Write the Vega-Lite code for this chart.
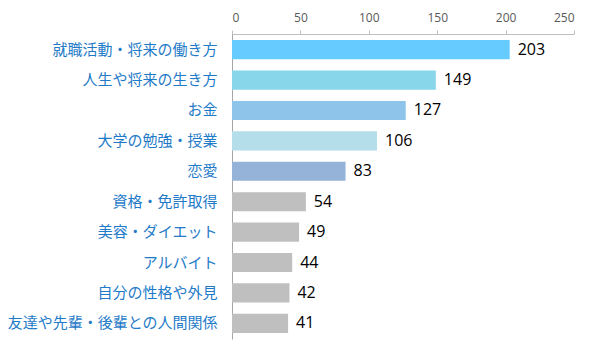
{
  "$schema": "https://vega.github.io/schema/vega-lite/v6.json",
  "autosize": {"type": "none"},
  "width": 342,
  "height": 305,
  "padding": {"left": 232, "top": 34, "right": 26, "bottom": 13},
  "background": "white",
  "config": {"view": {"stroke": null}},
  "data": {"values": [
    {"topic": "就職活動・将来の働き方", "count": 203, "color": "#66CCFF"},
    {"topic": "人生や将来の生き方", "count": 149, "color": "#87D6EA"},
    {"topic": "お金", "count": 127, "color": "#8EC3EA"},
    {"topic": "大学の勉強・授業", "count": 106, "color": "#B4DEEA"},
    {"topic": "恋愛", "count": 83, "color": "#95B2D8"},
    {"topic": "資格・免許取得", "count": 54, "color": "#BFBFBF"},
    {"topic": "美容・ダイエット", "count": 49, "color": "#BFBFBF"},
    {"topic": "アルバイト", "count": 44, "color": "#BFBFBF"},
    {"topic": "自分の性格や外見", "count": 42, "color": "#BFBFBF"},
    {"topic": "友達や先輩・後輩との人間関係", "count": 41, "color": "#BFBFBF"}
  ]},
  "encoding": {
    "y": {
      "field": "topic", "type": "nominal", "sort": null,
      "scale": {"paddingInner": 0.37, "paddingOuter": 0.2},
      "axis": {
        "title": null, "ticks": false, "domainColor": "#A6A6A6",
        "labelColor": "#1F7BC8", "labelFont": "Noto Sans CJK JP",
        "labelFontSize": 15, "labelPadding": 15, "labelLimit": 300
      }
    },
    "x": {
      "field": "count", "type": "quantitative",
      "scale": {"domain": [0, 250]},
      "axis": {
        "orient": "top", "title": null, "values": [0, 50, 100, 150, 200, 250],
        "grid": false, "domainColor": "#BFBFBF", "tickColor": "#BFBFBF",
        "tickSize": 4, "labelColor": "#595959", "labelFont": "Open Sans",
        "labelFontSize": 12, "labelPadding": 6
      }
    }
  },
  "layer": [
    {"mark": {"type": "bar"}, "encoding": {"color": {"field": "color", "type": "nominal", "scale": null}}},
    {"mark": {"type": "text", "align": "left", "dx": 8, "font": "Open Sans", "fontSize": 16, "color": "#000000"},
     "encoding": {"text": {"field": "count", "type": "quantitative"}}}
  ]
}
